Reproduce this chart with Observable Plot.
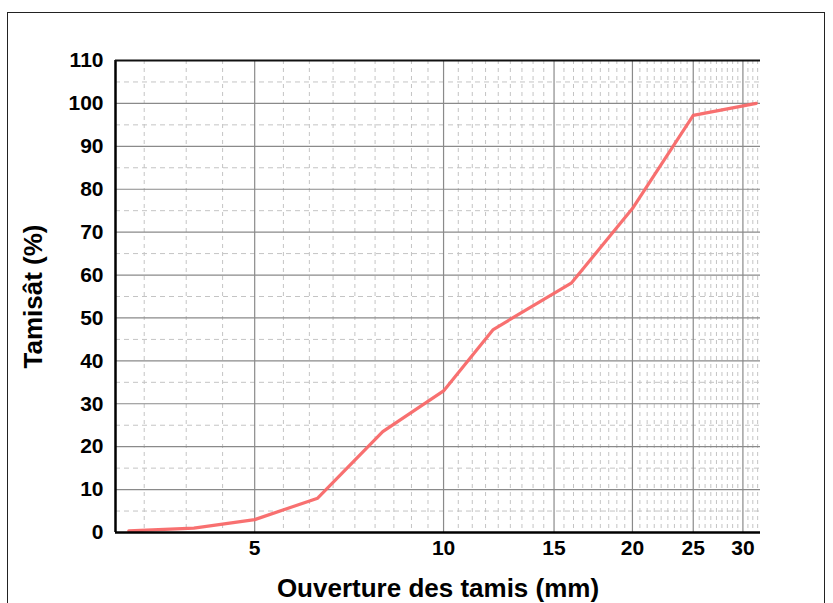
<!DOCTYPE html>
<html>
<head>
<meta charset="utf-8">
<script src="https://cdn.jsdelivr.net/npm/d3@7"></script>
<script src="https://cdn.jsdelivr.net/npm/@observablehq/plot@0.6"></script>
<style>
  html, body { margin: 0; padding: 0; background: #fff; overflow: hidden; }
  #wrap { position: relative; width: 833px; height: 603px; }
  #frame { position: absolute; left: 7px; top: 12px; width: 818px; height: 620px; border: 1px solid #222; box-sizing: border-box; pointer-events: none; }
  #chart { position: absolute; left: 0; top: 0; }
</style>
</head>
<body>
<div id="wrap"><div id="chart"></div><div id="frame"></div></div>
<script>
// Sieve openings (mm) and cumulative passing (%)
const sieve = [3.15, 4, 5, 6.3, 8, 10, 12, 16, 20, 25, 31.5];
const passing = [0.4, 1, 3, 8, 23.5, 33, 47.3, 58.2, 75.5, 97.2, 100];
const xTicks = [5, 10, 15, 20, 25, 30];
const yTicks = [0, 10, 20, 30, 40, 50, 60, 70, 80, 90, 100, 110];
const xLabel = "Ouverture des tamis (mm)";
const yLabel = "Tamisât (%)";

const data = sieve.map((s, i) => ({s, p: passing[i]}));
const xMin = 3, xMax = 32;

// minor grid: 8 subdivisions in each 5 mm interval, 5 % steps vertically
const minorX = [];
for (let k = 0; k <= 6; k++) for (let j = 1; j <= 8; j++) {
  const v = 5 * k + j * 5 / 9;
  if (v > xMin && v < xMax) minorX.push(v);
}
const minorY = d3.range(5, 110, 10);

const font = "'Liberation Sans', Arial, Helvetica, sans-serif";

const chart = Plot.plot({
  width: 833,
  height: 603,
  marginLeft: 115,
  marginRight: 73,
  marginTop: 60,
  marginBottom: 71,
  style: {fontFamily: font, background: "transparent"},
  x: {type: "log", domain: [xMin, xMax]},
  y: {domain: [0, 110]},
  marks: [
    Plot.ruleX(minorX, {stroke: "#c4c4c4", strokeWidth: 1, strokeDasharray: "4,4"}),
    Plot.ruleY(minorY, {stroke: "#c4c4c4", strokeWidth: 1, strokeDasharray: "5,4"}),
    Plot.ruleX(xTicks, {stroke: "#8a8a8a", strokeWidth: 1.2}),
    Plot.ruleY(yTicks, {stroke: "#8a8a8a", strokeWidth: 1.2}),
    Plot.line(data, {x: "s", y: "p", stroke: "#f86868", strokeWidth: 3.2, strokeOpacity: 0.95}),
    Plot.ruleX([xMin], {stroke: "#000", strokeWidth: 2.5}),
    Plot.ruleY([0], {stroke: "#000", strokeWidth: 2.5}),
    Plot.ruleY([110], {stroke: "#111", strokeWidth: 2}),
    Plot.axisX({ticks: xTicks, tickFormat: d => String(d), tickSize: 0, tickPadding: 8, fontSize: 21, fontWeight: "bold", fill: "#000", label: null}),
    Plot.axisY({ticks: yTicks, tickSize: 0, tickPadding: 12, fontSize: 21, fontWeight: "bold", fill: "#000", label: null}),
    Plot.text([yLabel], {frameAnchor: "left", textAnchor: "middle", dx: -82, rotate: -90, fontSize: 26, fontWeight: "bold", fill: "#000", text: d => d}),
    Plot.text([xLabel], {frameAnchor: "bottom", textAnchor: "middle", lineAnchor: "middle", dy: 56, fontSize: 26, fontWeight: "bold", fill: "#000", text: d => d})
  ]
});
document.getElementById("chart").appendChild(chart);
</script>
</body>
</html>
